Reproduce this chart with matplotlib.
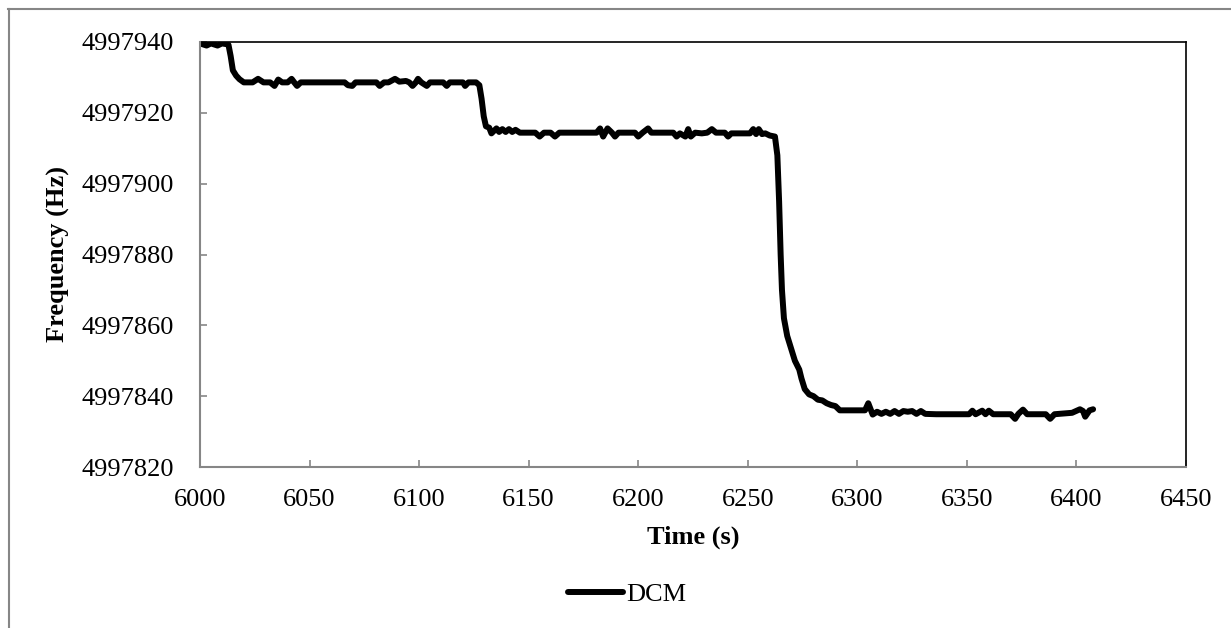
import matplotlib
matplotlib.use('Agg')
from matplotlib import pyplot as plt
from matplotlib.lines import Line2D

# DCM frequency trace (time s, frequency Hz)
time_s = [
    6000, 6003, 6005, 6008, 6010, 6012, 6013, 6014, 6015, 6016.5, 6018, 6020,
    6024, 6026.5, 6029, 6032, 6034, 6035.7, 6037.5, 6040, 6041.8, 6043, 6044.3, 6046,
    6066, 6067.5, 6069.5, 6071, 6080.5, 6082, 6084, 6086, 6089, 6091, 6094, 6095.5,
    6097, 6098.5, 6099.5, 6101, 6103.5, 6105, 6111, 6112.6, 6114, 6120, 6121, 6122.5,
    6126, 6127.5, 6128.5, 6129.5, 6130.5, 6132, 6133, 6135.3,
    6136.5, 6138, 6139.5, 6141, 6142.5, 6144, 6146, 6153, 6155, 6157, 6160, 6162, 6164,
    6181, 6182.6, 6184, 6186, 6188, 6189.4, 6191, 6198.5, 6200, 6202, 6204.5, 6206,
    6216, 6217.5, 6219, 6221.5, 6222.8, 6224, 6226, 6229, 6231.5, 6233.6, 6235.5,
    6239.5, 6241, 6242.5, 6251, 6252.5, 6253.8, 6255, 6256.5, 6258, 6260, 6262.4,
    6263.5, 6264.3, 6265, 6265.6, 6266.5, 6268, 6269.5, 6271.5, 6273.5, 6274.5, 6276,
    6278, 6280, 6282, 6284, 6286, 6288, 6290, 6292,
    6303.5, 6305, 6307, 6309, 6311, 6313, 6315, 6317, 6319, 6321, 6323, 6325, 6327,
    6329, 6331, 6336, 6351, 6352.5, 6354, 6357, 6358.5, 6360, 6362, 6370, 6372, 6373.5,
    6375.6, 6377.5, 6386, 6388, 6390, 6392, 6398, 6401.6, 6403, 6404, 6406, 6407.6,
]
freq_hz = [
    4997939.6, 4997939.0, 4997939.6, 4997939.0, 4997939.6, 4997939.4, 4997939.2,
    4997936.0, 4997932.0, 4997930.5, 4997929.5, 4997928.6,
    4997928.6, 4997929.6, 4997928.6, 4997928.6, 4997927.6, 4997929.4, 4997928.6,
    4997928.6, 4997929.6, 4997928.6, 4997927.6, 4997928.6,
    4997928.6, 4997927.8, 4997927.6, 4997928.6, 4997928.6, 4997927.6, 4997928.6,
    4997928.6, 4997929.6, 4997928.8, 4997929.0, 4997928.6,
    4997927.6, 4997928.6, 4997929.6, 4997928.6, 4997927.6, 4997928.6, 4997928.6,
    4997927.6, 4997928.6, 4997928.6, 4997927.6, 4997928.6,
    4997928.6, 4997927.8, 4997924.0, 4997919.0, 4997916.2, 4997915.8, 4997914.2,
    4997915.6,
    4997914.6, 4997915.4, 4997914.6, 4997915.4, 4997914.6, 4997915.2, 4997914.4,
    4997914.4, 4997913.3, 4997914.4, 4997914.4, 4997913.3, 4997914.4,
    4997914.4, 4997915.6, 4997913.3, 4997915.6, 4997914.4, 4997913.3, 4997914.4,
    4997914.4, 4997913.3, 4997914.4, 4997915.6, 4997914.4,
    4997914.4, 4997913.3, 4997914.2, 4997913.3, 4997915.4, 4997913.3, 4997914.4,
    4997914.2, 4997914.4, 4997915.4, 4997914.4,
    4997914.4, 4997913.3, 4997914.2, 4997914.2, 4997915.4, 4997914.0, 4997915.4,
    4997914.0, 4997914.2, 4997913.6, 4997913.3,
    4997908.0, 4997895.0, 4997880.0, 4997870.0, 4997862.0, 4997857.0, 4997854.0,
    4997850.0, 4997847.5, 4997845.0, 4997842.0,
    4997840.5, 4997840.0, 4997839.0, 4997838.8, 4997838.0, 4997837.5, 4997837.2,
    4997836.0,
    4997836.0, 4997838.0, 4997834.8, 4997835.6, 4997835.0, 4997835.6, 4997835.0,
    4997835.8, 4997835.0, 4997835.8, 4997835.6, 4997835.8, 4997835.0,
    4997835.8, 4997835.0, 4997834.9, 4997834.9, 4997835.9, 4997834.9, 4997835.9,
    4997834.9, 4997835.9, 4997834.9, 4997834.9, 4997833.6, 4997835.0,
    4997836.2, 4997834.9, 4997834.9, 4997833.6, 4997834.9, 4997835.0, 4997835.3,
    4997836.3, 4997835.8, 4997834.2, 4997836.0, 4997836.3,
]

x_ticks = [6000, 6050, 6100, 6150, 6200, 6250, 6300, 6350, 6400, 6450]
y_ticks = [4997820, 4997840, 4997860, 4997880, 4997900, 4997920, 4997940]

plt.rcParams['font.family'] = ['Liberation Serif', 'DejaVu Serif']
plt.rcParams['font.size'] = 19

fig = plt.figure(figsize=(12.31, 6.28), dpi=100)
ax = fig.add_axes([200 / 1231, 1 - 467 / 628, 986 / 1231, 425 / 628])

ax.plot(time_s, freq_hz, color='black', lw=4.3, solid_joinstyle='round',
        solid_capstyle='round', label='DCM')

ax.set_xlim(6000, 6450)
ax.set_ylim(4997820, 4997940)
ax.set_xticks(x_ticks)
ax.set_yticks(y_ticks)
ax.ticklabel_format(useOffset=False, style='plain')

grey = '#868686'
for side in ['left', 'bottom']:
    ax.spines[side].set_color(grey)
    ax.spines[side].set_linewidth(1.5)
for side in ['top', 'right']:
    ax.spines[side].set_color('black')
    ax.spines[side].set_linewidth(1.2)
ax.spines['left'].set_zorder(3)
ax.spines['bottom'].set_zorder(3)

ax.tick_params(axis='x', direction='in', length=5, width=1.2, color=grey, pad=16)
ax.tick_params(axis='y', direction='in', length=5, width=1.2, color=grey, pad=19)

ax.set_xlabel('Time (s)', fontweight='bold', labelpad=10)
ax.set_ylabel('Frequency (Hz)', fontweight='bold', labelpad=8)

ax.legend(loc='center', bbox_to_anchor=(627 / 1231, 1 - 594 / 628),
          bbox_transform=fig.transFigure, frameon=False, handlelength=2.1,
          handletextpad=0.1)

# outer chart border
fig.add_artist(Line2D([8.5 / 1231, 8.5 / 1231], [0, 1 - 9 / 628],
                      transform=fig.transFigure, color=grey, lw=1.5))
fig.add_artist(Line2D([8 / 1231, 1], [1 - 9 / 628, 1 - 9 / 628],
                      transform=fig.transFigure, color=grey, lw=1.5))

fig.savefig('out.png', dpi=100)
